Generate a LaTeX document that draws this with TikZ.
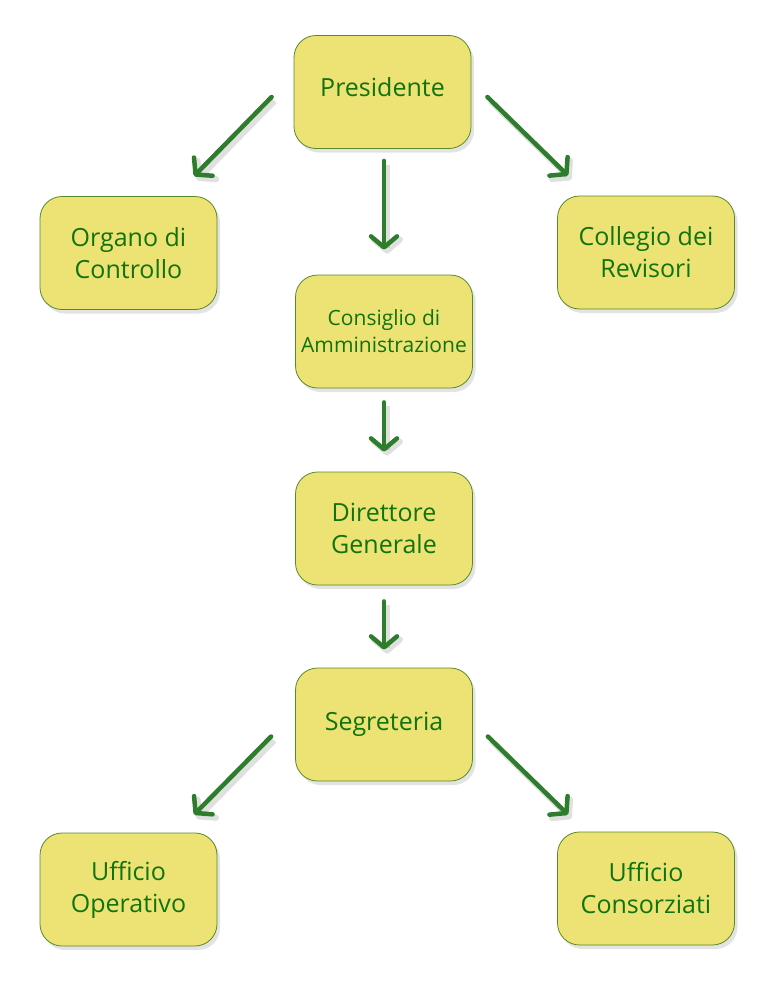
\documentclass[tikz,border=0pt]{standalone}
\usepackage{fontspec}
\setmainfont{Open Sans}
\usetikzlibrary{arrows.meta,shadows,calc}
\definecolor{boxfill}{RGB}{236,227,116}
\definecolor{boxline}{RGB}{88,138,40}
\definecolor{txtgreen}{RGB}{16,115,16}
\definecolor{arrgreen}{RGB}{45,125,45}
\tikzset{
  orgbox/.style={draw=boxline, line width=0.8pt, fill=boxfill, rounded corners=22pt,
    minimum width=177pt, minimum height=113pt, align=center, text=txtgreen,
    font=\fontsize{25}{32}\selectfont,
    drop shadow={opacity=0.22, shadow xshift=3pt, shadow yshift=-4pt}},
  arr/.style={draw=arrgreen, line width=4.5pt, line cap=round,
    -{Straight Barb[length=11pt,width=26pt,line cap=round,line join=round]},
    preaction={draw=black, draw opacity=0.12, line width=6pt, transform canvas={xshift=3pt,yshift=-4pt}}}
}
\begin{document}
\begin{tikzpicture}[x=1pt,y=-1pt]
\useasboundingbox (0,0) rectangle (765,1001);
\node[orgbox, text depth=10pt] (pres) at (382.5,92) {Presidente};
\node[orgbox] (org) at (128.5,253) {Organo di\\Controllo};
\node[orgbox] (col) at (646,252.5) {Collegio dei\\Revisori};
\node[orgbox, font=\fontsize{21}{27}\selectfont] (cons) at (384,331.5) {Consiglio di\\Amministrazione};
\node[orgbox] (dir) at (384,528.5) {Direttore\\Generale};
\node[orgbox] (seg) at (384,724.5) {Segreteria};
\node[orgbox] (uop) at (128.5,889.5) {Ufficio\\Operativo};
\node[orgbox] (ucn) at (646,888.5) {Ufficio\\Consorziati};

\draw[arr] ([xshift=-22pt,yshift=-5pt]pres.west) -- ([xshift=65.5pt,yshift=20pt]org.north);
\draw[arr] ([xshift=16pt,yshift=-5pt]pres.east) -- ([xshift=-78pt,yshift=20pt]col.north);
\draw[arr] ([yshift=-12pt]pres.south -| cons.north) -- ([yshift=25pt]cons.north);
\draw[arr] ([yshift=-14pt]cons.south) -- ([yshift=20pt]dir.north);
\draw[arr] ([yshift=-16pt]dir.south) -- ([yshift=18pt]seg.north);
\draw[arr] ([xshift=-24pt,yshift=-12pt]seg.west) -- ([xshift=65.5pt,yshift=18pt]uop.north);
\draw[arr] ([xshift=15pt,yshift=-12pt]seg.east) -- ([xshift=-78pt,yshift=17pt]ucn.north);
\end{tikzpicture}
\end{document}
